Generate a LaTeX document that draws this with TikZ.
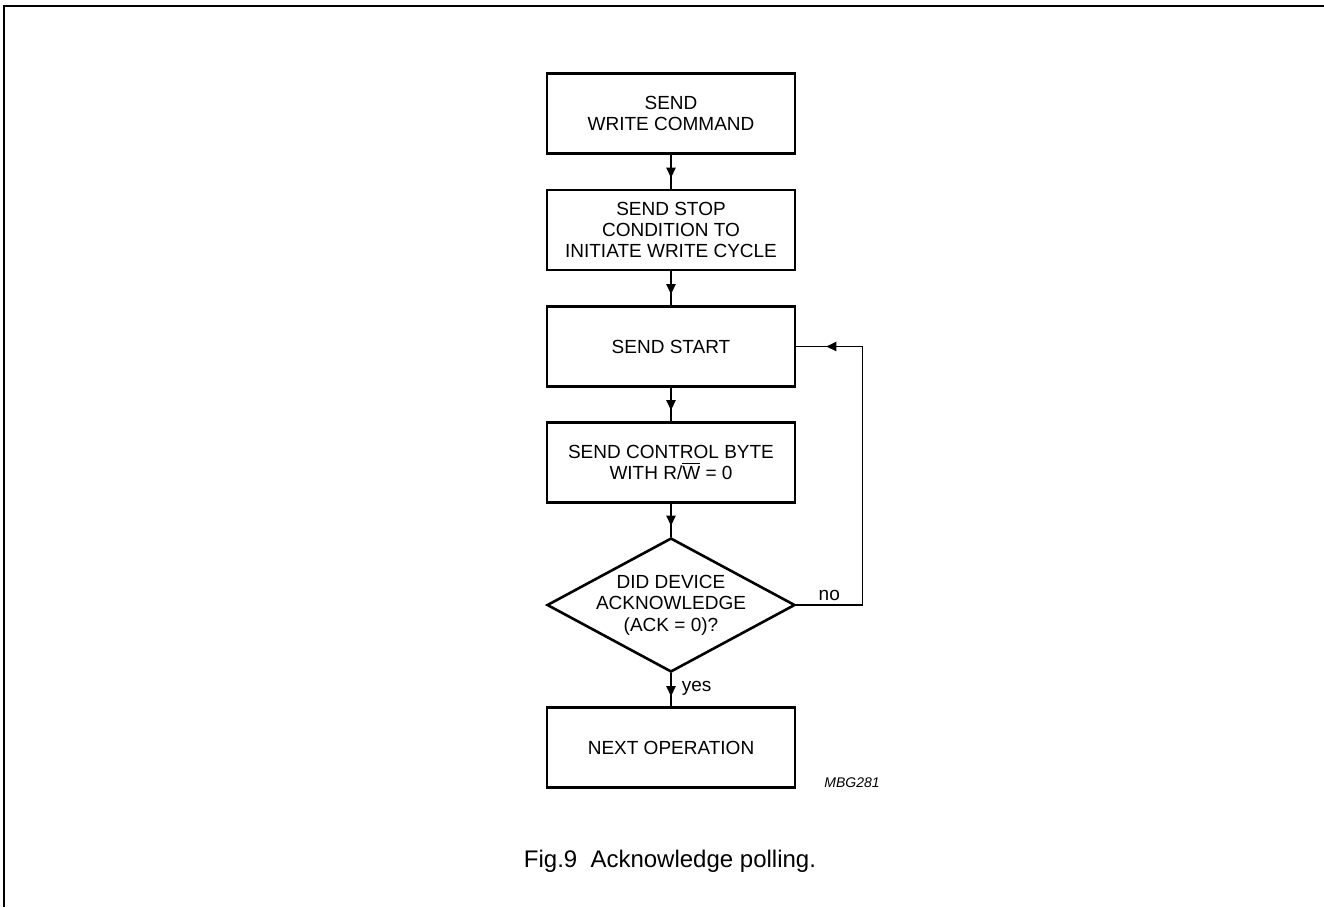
\documentclass[tikz,border=0pt]{standalone}
\usepackage{fontspec}
\setmainfont{Liberation Sans}
\usetikzlibrary{shapes.geometric,arrows.meta,decorations.markings}

\tikzset{
    box/.style={draw, line width=1.3pt, minimum width=124pt, minimum height=40pt, inner sep=0pt, align=center, font=\fontsize{9.5}{10.3}\selectfont},
    decision/.style={draw, diamond, line width=1.3pt, minimum width=124pt, minimum height=67pt, inner sep=0pt},
    flow/.style={line width=0.8pt, postaction={decorate}, decoration={markings, mark=at position #1 with {\arrow{Triangle[length=5pt,width=4.6pt]}}}},
    flow/.default=-5.5pt,
    tag/.style={font=\fontsize{9.5}{10.3}\selectfont, inner sep=2pt}
}

\begin{document}
\begin{tikzpicture}[x=0.5pt, y=-0.5pt]
    \useasboundingbox (0,0) rectangle (1324,907);
    % frame
    \draw[line width=1.1pt] (4,907) -- (4,6) -- (1324,6);

    \node[box] (send) at (671,113.5) {SEND\\WRITE COMMAND};
    \node[box] (stopcond) at (671,230) {SEND STOP\\CONDITION TO\\INITIATE WRITE CYCLE};
    \node[box] (start) at (671,346.5) {SEND START};
    \node[box] (ctrlbyte) at (671,462.5) {SEND CONTROL BYTE\\WITH R/$\overline{\hbox{W}}$ = 0};
    \node[decision, label={[align=center, font=\fontsize{9.5}{10.8}\selectfont]center:DID DEVICE\\ACKNOWLEDGE\\(ACK = 0)?}] (ack) at (671,605) {};
    \node[box] (next) at (671,747.5) {NEXT OPERATION};

    \draw[flow] (send) -- (stopcond);
    \draw[flow] (stopcond) -- (start);
    \draw[flow] (start) -- (ctrlbyte);
    \draw[flow] (ctrlbyte) -- (ack);
    \draw[flow=-5pt] (ack) -- (next) node[tag, pos=0.45, right, xshift=3pt] {yes};
    \draw[flow=-15pt] (ack.east) -- ++(66,0) node[tag, midway, above] {no} |- (start.east);

    \node[font=\fontsize{7}{8}\selectfont\itshape] (code) at (852,783) {MBG281};
    \node[font=\fontsize{12}{14}\selectfont] (caption) at (670,861) {Fig.9\hspace{0.55em}Acknowledge polling.};
\end{tikzpicture}
\end{document}
